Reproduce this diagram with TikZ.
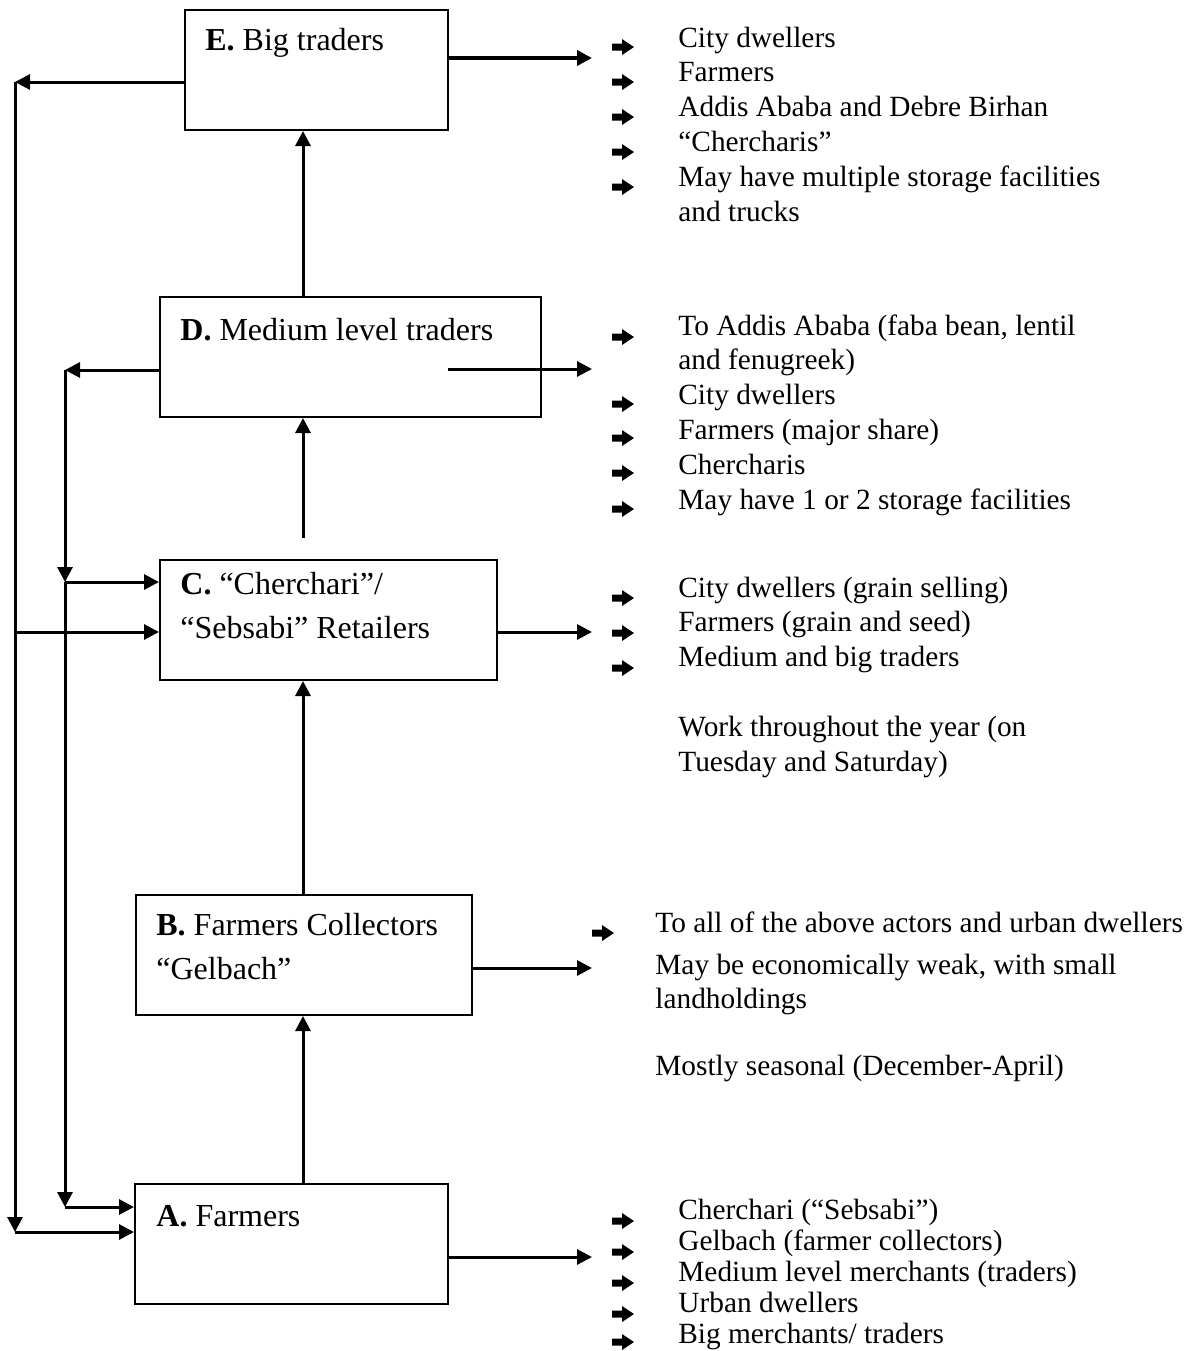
\documentclass[tikz,border=0pt]{standalone}
\usepackage{fontspec}
\setmainfont{Liberation Serif}
\usetikzlibrary{arrows.meta,fit}
\newcommand{\arrowbullets}[2]{%
  \foreach \y in {#2}{%
    \fill (#1,\y-3.5) -- (#1+10,\y-3.5) -- (#1+10,\y-8) -- (#1+22,\y)
      -- (#1+10,\y+8) -- (#1+10,\y+3.5) -- (#1,\y+3.5) -- cycle;
  }%
}
\newcommand{\stack}[1]{\begin{tabular}[t]{@{}l@{}}#1\end{tabular}}
\tikzset{
  box/.style={draw, line width=1pt, inner sep=0pt},
  flow/.style={line width=1.5pt, -{Triangle[length=7.5pt,width=7.5pt]}},
  boxtxt/.style={anchor=base west, inner sep=0pt,
    font=\fontsize{16}{22}\selectfont},
  listtxt/.style={anchor=base west, inner sep=0pt,
    font=\fontsize{14.67}{17.4}\selectfont},
}

\begin{document}
\begin{tikzpicture}[x=0.5pt,y=-0.5pt]
  \useasboundingbox (0,0) rectangle (1194,1351);
  % actor boxes
  \node[box, fit={(185,10) (448,130)}] (E) {};
  \node[box, fit={(160,297) (541,417)}] (D) {};
  \node[box, fit={(160,560) (497,680)}] (C) {};
  \node[box, fit={(136,895) (472,1015)}] (B) {};
  \node[box, fit={(135,1184) (448,1304)}] (A) {};
  \node[boxtxt] (Etxt) at (205,50) {\textbf{E.} Big traders};
  \node[boxtxt] (Dtxt) at (180,340) {\textbf{D.} Medium level traders};
  \node[boxtxt] (Ctxt) at (180,594) {\stack{\textbf{C.} “Cherchari”/\\“Sebsabi” Retailers}};
  \node[boxtxt] (Btxt) at (156,935) {\stack{\textbf{B.} Farmers Collectors\\“Gelbach”}};
  \node[boxtxt] (Atxt) at (156,1226) {\textbf{A.} Farmers};

  % who they sell to
  \node[listtxt] (Elist) at (678,47) {\stack{City dwellers\\Farmers\\Addis Ababa and Debre Birhan\\“Chercharis”\\May have multiple storage facilities\\and trucks}};
  \arrowbullets{612}{47,82,117,152,187}
  \node[listtxt] (Dlist) at (678,335) {\stack{To Addis Ababa (faba bean, lentil\\and fenugreek)\\City dwellers\\Farmers (major share)\\Chercharis\\May have 1 or 2 storage facilities}};
  \arrowbullets{612}{337,404,438,473,509}
  \node[listtxt] (Clist) at (678,597) {\stack{City dwellers (grain selling)\\Farmers (grain and seed)\\Medium and big traders\\[17.4pt]Work throughout the year (on\\Tuesday and Saturday)}};
  \arrowbullets{612}{598,633,668}
  \node[listtxt] (Blist1) at (655,932) {To all of the above actors and urban dwellers};
  \node[listtxt] (Blist2) at (655,974) {\stack{May be economically weak, with small\\landholdings}};
  \node[listtxt] (Blist3) at (655,1075) {Mostly seasonal (December-April)};
  \arrowbullets{592}{933}
  \node[listtxt, font=\fontsize{14.67}{15.6}\selectfont] (Alist) at (678,1219) {\stack{Cherchari (“Sebsabi”)\\Gelbach (farmer collectors)\\Medium level merchants (traders)\\Urban dwellers\\Big merchants/ traders}};
  \arrowbullets{612}{1221,1252,1283,1314,1342}

  % outgoing arrows
  \coordinate (eOut) at (592,58);
  \coordinate (dStart) at (448,369);
  \coordinate (dOut) at (592,369);
  \coordinate (cOut) at (592,632);
  \coordinate (bOut) at (592,968);
  \coordinate (aOut) at (592,1257);
  \draw[flow, line width=1.8pt] (E.east |- eOut) -- (eOut);
  \draw[flow] (dStart) -- (dOut);
  \draw[flow] (C.east |- cOut) -- (cOut);
  \draw[flow] (B.east |- bOut) -- (bOut);
  \draw[flow] (A.east |- aOut) -- (aOut);

  % the chain upwards
  \coordinate (spine) at (303,0);
  \coordinate (cTop) at (303,538);
  \draw[flow] (spine |- A.north) -- (spine |- B.south);
  \draw[flow] (spine |- B.north) -- (spine |- C.south);
  \draw[flow] (cTop) -- (spine |- D.south);
  \draw[flow] (spine |- D.north) -- (spine |- E.south);

  % back to farmers and retailers
  \coordinate (outer) at (15,82);
  \coordinate (outerA) at (15,1232);
  \coordinate (inner) at (65,370);
  \coordinate (innerC) at (65,582);
  \coordinate (innerA) at (65,1207);
  \draw[flow] (E.west |- outer) -- (outer);
  \draw[flow] (outer) -- (outerA);
  \draw[flow] (outerA) -- (A.west |- outerA);
  \draw[flow] (outer |- cOut) -- (C.west |- cOut);
  \draw[flow] (D.west |- inner) -- (inner);
  \draw[flow] (inner) -- (innerC);
  \draw[flow] (innerC) -- (C.west |- innerC);
  \draw[flow] (innerC) -- (innerA);
  \draw[flow] (innerA) -- (A.west |- innerA);
\end{tikzpicture}
\end{document}
